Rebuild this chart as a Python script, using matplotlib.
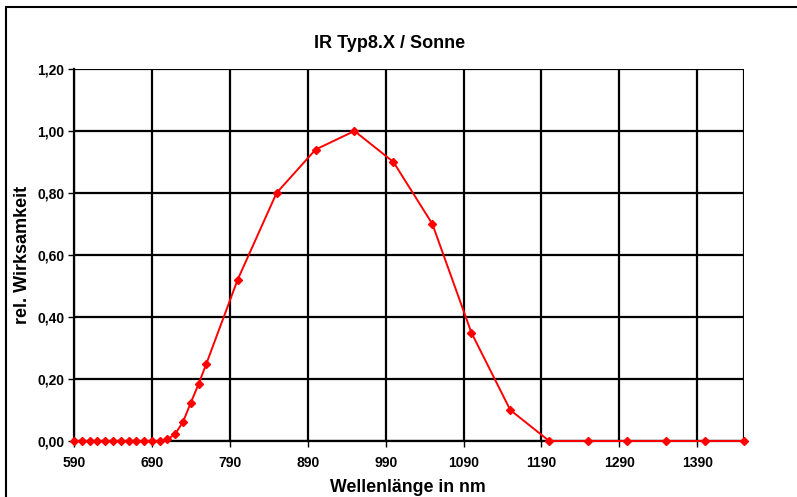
import matplotlib
matplotlib.use("Agg")
import matplotlib.pyplot as plt
from matplotlib.ticker import FuncFormatter, MultipleLocator
from matplotlib.patches import Rectangle

wavelength = [590, 600, 610, 620, 630, 640, 650, 660, 670, 680, 690, 700,
              710, 720, 730, 740, 750, 760, 800, 850, 900, 950, 1000, 1050,
              1100, 1150, 1200, 1250, 1300, 1350, 1400, 1450]
wirksamkeit = [0, 0, 0, 0, 0, 0, 0, 0, 0, 0, 0, 0,
               0.005, 0.023, 0.062, 0.124, 0.184, 0.25, 0.52, 0.80, 0.94, 1.00, 0.90, 0.70,
               0.35, 0.10, 0, 0, 0, 0, 0, 0]
x_ticks = [590, 690, 790, 890, 990, 1090, 1190, 1290, 1390]
title = "IR Typ8.X / Sonne"
xlabel = "Wellenlänge in nm"
ylabel = "rel. Wirksamkeit"

plt.rcParams['font.family'] = ['Liberation Sans', 'DejaVu Sans']

W, H = 797, 497
fig = plt.figure(figsize=(W/100, H/100), dpi=100)
ax = fig.add_axes([74/W, 1-441/H, (744-74)/W, (441-69)/H])

# outer frame (left and top edges visible)
fig.patches.append(Rectangle((6/W, -0.1), 1.2, (1-7/H)+0.1, transform=fig.transFigure,
                             fill=False, edgecolor='black', linewidth=1.5, zorder=0))

ax.set_xlim(590, 1450)
ax.set_ylim(0, 1.2)
ax.set_xticks(x_ticks)
ax.yaxis.set_major_locator(MultipleLocator(0.2))
ax.yaxis.set_major_formatter(FuncFormatter(lambda v, p: f"{v:.2f}".replace('.', ',')))

ax.grid(True, color='black', linewidth=1.6)
ax.axvline(1450, color='black', linewidth=1.6)
ax.set_axisbelow(True)
for s in ax.spines.values():
    s.set_visible(False)
ax.spines['left'].set_visible(True)
ax.spines['left'].set_linewidth(1.6)
ax.spines['bottom'].set_visible(True)
ax.spines['bottom'].set_linewidth(1.6)

ax.tick_params(axis='both', direction='out', length=4, width=1, labelsize=10)
ax.tick_params(axis='x', pad=6.5)
ax.tick_params(axis='y', pad=3)
for lab in ax.get_xticklabels() + ax.get_yticklabels():
    lab.set_fontweight('bold')

ax.plot(wavelength, wirksamkeit, color='#ff0000', linewidth=1.4, marker='D',
        markersize=4, clip_on=False, zorder=5)

fig.text(390/W, 1-43/H, title, ha='center', va='center', fontsize=13, fontweight='bold')
fig.text(408/W, 1-487/H, xlabel, ha='center', va='center', fontsize=12.8, fontweight='bold')
fig.text(23/W, 1-255/H, ylabel, ha='center', va='center', rotation=90, fontsize=13, fontweight='bold')

fig.savefig("out.png", dpi=100)
